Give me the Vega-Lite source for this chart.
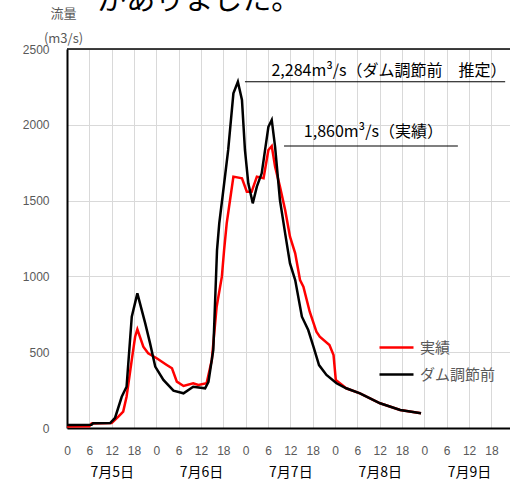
{
  "$schema": "https://vega.github.io/schema/vega-lite/v6.json",
  "width": 443,
  "height": 379,
  "autosize": "none",
  "padding": {"left": 67, "top": 49, "right": 0, "bottom": 54},
  "background": "white",
  "config": {
    "font": "Noto Sans CJK JP",
    "axis": {"labelFont": "Liberation Sans", "titleFont": "Noto Sans CJK JP", "ticks": false, "labelOverlap": false, "labelFlush": false, "domainColor": "#000000", "domainWidth": 2}
  },
  "datasets": {
    "jisseki": [
      {"h": 0, "v": 10, "s": "実績"}, {"h": 6, "v": 12, "s": "実績"}, {"h": 6.6, "v": 30, "s": "実績"}, {"h": 12, "v": 33, "s": "実績"},
      {"h": 13.8, "v": 75, "s": "実績"}, {"h": 15.1, "v": 108, "s": "実績"}, {"h": 16, "v": 206, "s": "実績"}, {"h": 17.4, "v": 449, "s": "実績"},
      {"h": 18.3, "v": 602, "s": "実績"}, {"h": 18.9, "v": 651, "s": "実績"}, {"h": 20.5, "v": 536, "s": "実績"}, {"h": 21.8, "v": 493, "s": "実績"},
      {"h": 24.1, "v": 460, "s": "実績"}, {"h": 26.8, "v": 416, "s": "実績"}, {"h": 28.2, "v": 394, "s": "実績"}, {"h": 29.5, "v": 306, "s": "実績"},
      {"h": 31.3, "v": 277, "s": "実績"}, {"h": 33.9, "v": 295, "s": "実績"}, {"h": 35.3, "v": 284, "s": "実績"}, {"h": 37.5, "v": 295, "s": "実績"},
      {"h": 38.9, "v": 449, "s": "実績"}, {"h": 40.2, "v": 800, "s": "実績"}, {"h": 41.6, "v": 998, "s": "実績"}, {"h": 42.2, "v": 1174, "s": "実績"},
      {"h": 42.9, "v": 1350, "s": "実績"}, {"h": 43.8, "v": 1504, "s": "実績"}, {"h": 44.7, "v": 1658, "s": "実績"}, {"h": 47, "v": 1647, "s": "実績"},
      {"h": 48.3, "v": 1559, "s": "実績"}, {"h": 49.6, "v": 1559, "s": "実績"}, {"h": 51, "v": 1658, "s": "実績"}, {"h": 52.8, "v": 1647, "s": "実績"},
      {"h": 54.1, "v": 1834, "s": "実績"}, {"h": 55, "v": 1860, "s": "実績"}, {"h": 55.9, "v": 1724, "s": "実績"}, {"h": 57.2, "v": 1592, "s": "実績"},
      {"h": 58.6, "v": 1438, "s": "実績"}, {"h": 59.9, "v": 1262, "s": "実績"}, {"h": 61.3, "v": 1152, "s": "実績"}, {"h": 62.6, "v": 976, "s": "実績"},
      {"h": 63.5, "v": 932, "s": "実績"}, {"h": 65.2, "v": 767, "s": "実績"}, {"h": 67, "v": 635, "s": "実績"}, {"h": 67.9, "v": 602, "s": "実績"},
      {"h": 70.5, "v": 547, "s": "実績"}, {"h": 71.6, "v": 481, "s": "実績"}, {"h": 72.2, "v": 317, "s": "実績"}, {"h": 75, "v": 262, "s": "実績"},
      {"h": 78.7, "v": 229, "s": "実績"}, {"h": 84.1, "v": 163, "s": "実績"}, {"h": 89.5, "v": 119, "s": "実績"}, {"h": 95.1, "v": 97, "s": "実績"}
    ],
    "mae": [
      {"h": 0, "v": 20, "s": "ダム調節前"}, {"h": 6.6, "v": 22, "s": "ダム調節前"}, {"h": 7, "v": 31, "s": "ダム調節前"}, {"h": 11.6, "v": 33, "s": "ダム調節前"},
      {"h": 12.9, "v": 66, "s": "ダム調節前"}, {"h": 14.7, "v": 206, "s": "ダム調節前"}, {"h": 16, "v": 272, "s": "ダム調節前"}, {"h": 17.4, "v": 734, "s": "ダム調節前"},
      {"h": 18.9, "v": 888, "s": "ダム調節前"}, {"h": 21, "v": 692, "s": "ダム調節前"}, {"h": 22.3, "v": 560, "s": "ダム調節前"}, {"h": 23.7, "v": 405, "s": "ダム調節前"},
      {"h": 25.9, "v": 317, "s": "ダム調節前"}, {"h": 28.6, "v": 246, "s": "ダム調節前"}, {"h": 31.3, "v": 229, "s": "ダム調節前"}, {"h": 33.9, "v": 272, "s": "ダム調節前"},
      {"h": 37.1, "v": 262, "s": "ダム調節前"}, {"h": 38, "v": 305, "s": "ダム調節前"}, {"h": 39.3, "v": 515, "s": "ダム調節前"}, {"h": 40.3, "v": 1174, "s": "ダム調節前"},
      {"h": 40.9, "v": 1350, "s": "ダム調節前"}, {"h": 42, "v": 1570, "s": "ダム調節前"}, {"h": 43.3, "v": 1834, "s": "ダム調節前"}, {"h": 44.7, "v": 2208, "s": "ダム調節前"},
      {"h": 45.9, "v": 2284, "s": "ダム調節前"}, {"h": 47, "v": 2164, "s": "ダム調節前"}, {"h": 47.8, "v": 1834, "s": "ダム調節前"}, {"h": 48.7, "v": 1614, "s": "ダム調節前"},
      {"h": 49.9, "v": 1482, "s": "ダム調節前"}, {"h": 51, "v": 1592, "s": "ダム調節前"}, {"h": 52.3, "v": 1680, "s": "ダム調節前"}, {"h": 54.1, "v": 1987, "s": "ダム調節前"},
      {"h": 55, "v": 2032, "s": "ダム調節前"}, {"h": 55.9, "v": 1855, "s": "ダム調節前"}, {"h": 57.2, "v": 1504, "s": "ダム調節前"}, {"h": 58.6, "v": 1284, "s": "ダム調節前"},
      {"h": 59.9, "v": 1086, "s": "ダム調節前"}, {"h": 61.3, "v": 976, "s": "ダム調節前"}, {"h": 63.1, "v": 734, "s": "ダム調節前"}, {"h": 64.8, "v": 646, "s": "ダム調節前"},
      {"h": 66.2, "v": 536, "s": "ダム調節前"}, {"h": 67.7, "v": 415, "s": "ダム調節前"}, {"h": 69.7, "v": 350, "s": "ダム調節前"}, {"h": 72.4, "v": 295, "s": "ダム調節前"},
      {"h": 75, "v": 262, "s": "ダム調節前"}, {"h": 78.7, "v": 229, "s": "ダム調節前"}, {"h": 84.1, "v": 163, "s": "ダム調節前"}, {"h": 89.5, "v": 119, "s": "ダム調節前"},
      {"h": 95.1, "v": 97, "s": "ダム調節前"}
    ],
    "rules": [
      {"h1": 47.8, "h2": 117.7, "v": 2284, "w": "a"},
      {"h1": 58.3, "h2": 105, "v": 1860, "w": "a"},
      {"h1": 0, "h2": 119, "v": 2500, "w": "b"}
    ],
    "notes": [
      {"h": 86.5, "v": 2357, "t": "2,284m³/s（ダム調節前　推定）"},
      {"h": 82.3, "v": 1954, "t": "1,860m³/s（実績）"}
    ],
    "head": [
      {"h": 8.1, "v": 2758, "t": "がありました。"}
    ]
  },
  "resolve": {"axis": {"x": "independent"}},
  "layer": [
    {
      "data": {"name": "jisseki"},
      "mark": {"type": "line", "strokeWidth": 2.5},
      "encoding": {
        "x": {"field": "h", "type": "quantitative", "scale": {"domain": [0, 119], "nice": false, "zero": false},
          "axis": {"values": [0,6,12,18,24,30,36,42,48,54,60,66,72,78,84,90,96,102,108,114], "labelExpr": "datum.value % 24", "grid": true, "gridColor": "#d9d9d9", "gridWidth": 1, "zindex": 0, "labelColor": "#595959", "labelFontSize": 12, "labelPadding": 17, "title": null}},
        "y": {"field": "v", "type": "quantitative", "scale": {"domain": [0, 2500], "nice": false},
          "axis": {"values": [0,500,1000,1500,2000,2500], "format": "d", "grid": true, "gridColor": "#d9d9d9", "gridWidth": 1, "zindex": 0, "labelColor": "#595959", "labelFontSize": 12, "labelPadding": 18,
            "title": ["流量", "(m3/s)"], "titleAngle": 0, "titleAlign": "center", "titleBaseline": "top", "titleX": -4, "titleY": -42, "titleColor": "#595959", "titleFontSize": 13, "titleFontWeight": "normal", "titleLineHeight": 25}},
        "color": {"field": "s", "type": "nominal", "scale": {"domain": ["実績", "ダム調節前"], "range": ["#ff0000", "#000000"]},
          "legend": {"orient": "none", "legendX": 311, "legendY": 280, "title": null, "symbolType": "stroke", "symbolSize": 1156, "symbolStrokeWidth": 2.5, "labelFontSize": 15, "labelColor": "#595959", "labelFont": "Noto Sans CJK JP", "labelOffset": 5, "padding": 0, "rowPadding": -5}}
      }
    },
    {
      "data": {"name": "mae"},
      "mark": {"type": "line", "strokeWidth": 2.5},
      "encoding": {
        "x": {"field": "h", "type": "quantitative", "axis": null},
        "y": {"field": "v", "type": "quantitative"},
        "color": {"field": "s", "type": "nominal"}
      }
    },
    {
      "data": {"name": "rules"},
      "mark": {"type": "rule", "color": "#000000"},
      "encoding": {
        "x": {"field": "h1", "type": "quantitative", "axis": null},
        "x2": {"field": "h2"},
        "y": {"field": "v", "type": "quantitative"},
        "strokeWidth": {"field": "w", "type": "nominal", "scale": {"domain": ["a", "b"], "range": [1.2, 1.5]}, "legend": null}
      }
    },
    {
      "data": {"name": "head"},
      "mark": {"type": "text", "fontSize": 29, "font": "Noto Sans CJK JP", "color": "#000000", "align": "left", "baseline": "alphabetic"},
      "encoding": {
        "x": {"field": "h", "type": "quantitative", "axis": null},
        "y": {"field": "v", "type": "quantitative"},
        "text": {"field": "t"}
      }
    },
    {
      "data": {"name": "notes"},
      "mark": {"type": "text", "fontSize": 16, "font": "Noto Sans CJK JP", "color": "#000000", "align": "center", "baseline": "middle"},
      "encoding": {
        "x": {"field": "h", "type": "quantitative",
          "axis": {"orient": "bottom", "values": [12, 36, 60, 84, 108], "labelExpr": "['7月5日','7月6日','7月7日','7月8日','7月9日'][floor(datum.value / 24)]", "grid": false, "domain": false, "labelPadding": 37, "labelColor": "#000000", "labelFontSize": 14, "labelFont": "Noto Sans CJK JP", "title": null}},
        "y": {"field": "v", "type": "quantitative"},
        "text": {"field": "t"}
      }
    }
  ]
}
